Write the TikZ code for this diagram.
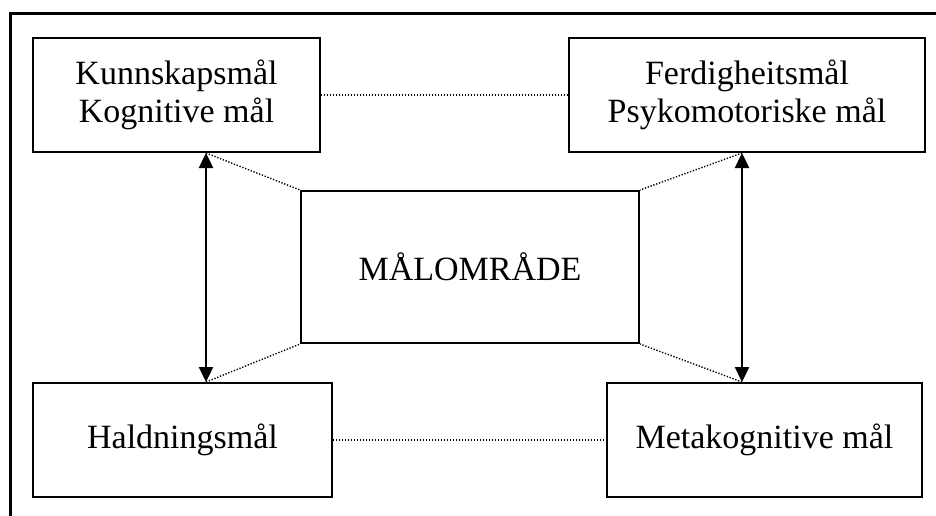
\documentclass[tikz,border=0pt]{standalone}
\usepackage{fontspec}
\setmainfont{Liberation Serif}
\usetikzlibrary{arrows.meta}
\begin{document}
\begin{tikzpicture}[x=1pt,y=-1pt,
  box/.style={draw,line width=2pt,inner sep=0pt,align=center,
    font=\fontsize{34}{38}\selectfont},
  dotline/.style={line width=1.4pt,dash pattern=on 1.3pt off 1.7pt},
  dbl/.style={line width=2.4pt,{Triangle[length=15pt,width=14pt]}-{Triangle[length=15pt,width=14pt]}},
  frame/.style={line width=3pt}]
\useasboundingbox (0,0) rectangle (936,516);
\coordinate (fTL) at (10,14);
\coordinate (fTR) at (937,14);
\coordinate (fBL) at (10,517);
\draw[frame] (fTR) -- (fTL) -- (fBL);
\node[box,minimum width=287pt,minimum height=114pt] (TL) at (176.5,95) {Kunnskapsmål\\Kognitive mål};
\node[box,minimum width=356pt,minimum height=114pt] (TR) at (747,95) {Ferdigheitsmål\\Psykomotoriske mål};
\node[box,minimum width=299pt,minimum height=114pt] (BL) at (182.5,440) {Haldningsmål};
\node[box,minimum width=315pt,minimum height=114pt] (BR) at (764.5,440) {Metakognitive mål};
\node[box,minimum width=338pt,minimum height=152pt] (C) at (470,267) {MÅLOMRÅDE};
\coordinate (ax1) at (206,0);
\coordinate (ax2) at (742,0);
\draw[dbl] (TL.south -| ax1) -- (BL.north -| ax1);
\draw[dbl] (TR.south -| ax2) -- (BR.north -| ax2);
\draw[dotline] (TL.south -| ax1) -- (C.north west);
\draw[dotline] (BL.north -| ax1) -- (C.south west);
\draw[dotline] (TR.south -| ax2) -- (C.north east);
\draw[dotline] (BR.north -| ax2) -- (C.south east);
\draw[dotline] (TL.east) -- (TR.west);
\draw[dotline] (BL.east) -- (BR.west);
\end{tikzpicture}
\end{document}
